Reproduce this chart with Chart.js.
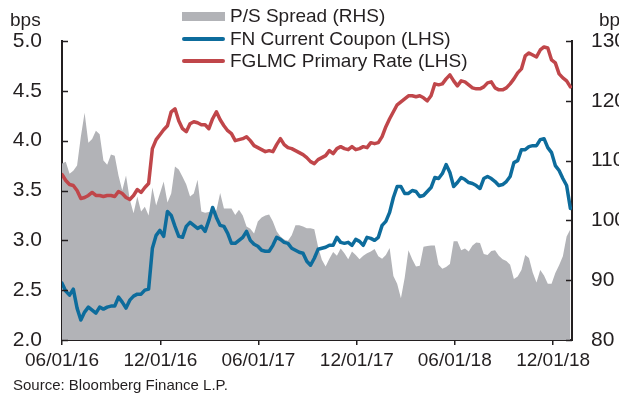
<!DOCTYPE html>
<html>
<head>
<meta charset="utf-8">
<script src="https://cdn.jsdelivr.net/npm/chart.js@4.4.0/dist/chart.umd.min.js"></script>
<style>
  html, body { margin: 0; padding: 0; background: #fff; }
  body { width: 619px; height: 400px; position: relative; overflow: hidden;
         font-family: 'Liberation Sans', Arial, sans-serif; color: #231f20; }
  canvas { position: absolute; left: 0; top: 0; }
  .lbl { position: absolute; white-space: nowrap; line-height: 1; }
  .legend { position: absolute; left: 182px; top: 5px; font-size: 19px; }
  .legend .row { height: 22.5px; display: flex; align-items: center; }
  .swatch { width: 43px; margin-right: 5px; }
</style>
</head>
<body>
<canvas id="chart" width="619" height="400"></canvas>
<div class="legend" id="legend"></div>
<div class="lbl" style="left:10px; top:10px; font-size:19px;">bps</div>
<div class="lbl" style="left:599px; top:10px; font-size:19px;">bps</div>
<div class="lbl" style="left:13px; top:377px; font-size:15px;">Source: Bloomberg Finance L.P.</div>
<script>
// weekly observations starting 06/01/16
const startDate = new Date(2016, 5, 1);
const tickLabels = ['06/01/16', '12/01/16', '06/01/17', '12/01/17', '06/01/18', '12/01/18'];

// P/S spread, bps (right axis)
const psSpread = [
  109.5, 109.8, 107.8, 108.3, 109.2, 114, 118, 113, 113.6, 115,
  114.4, 110, 109.3, 111, 110.8, 107.5, 105, 107.5, 103.5, 101.2,
  104, 101.5, 102.3, 100.8, 105.5, 102.5, 104.5, 106.5, 103, 104.5,
  109, 108.5, 107.3, 106, 104, 104.5, 106.8, 101.5, 101.3, 101.4,
  101.3, 101.7, 104.6, 102, 102, 102, 100.9, 101.8, 100.8, 99,
  98.6, 97.8, 99.8, 100.5, 100.8, 101, 99.8, 98.2, 97.3, 96.8,
  96.6, 97.5, 99.2, 99.2, 99, 98.7, 98.7, 98.5, 95.6, 93.4,
  92.3, 93.6, 94.7, 94.1, 95.3, 94.5, 93.5, 94.8, 94.2, 93.5,
  94.1, 94.5, 94.8, 95.2, 94, 93.6, 94.2, 95.4, 90.7, 89.4,
  87, 90.4, 95, 93.5, 92.3, 92.4, 95.6, 95.7, 95.8, 95.8,
  92.6, 91.9, 92.2, 92.7, 96.5, 96.5, 95, 95.3, 94.8, 95.8,
  96.3, 96.2, 94.4, 94.2, 94.9, 95, 94.1, 93.5, 93.2, 92.6,
  90.2, 90.6, 91.7, 94.2, 93.7, 91.3, 89.6, 91.7, 90.8, 89.4,
  89.4, 91.2, 92.5, 94, 97.3, 98.5
];

// FN current coupon, % (left axis)
const fnCurrentCoupon = [
  2.57, 2.49, 2.45, 2.51, 2.32, 2.20, 2.28, 2.33, 2.30, 2.27,
  2.33, 2.31, 2.33, 2.34, 2.34, 2.43, 2.38, 2.32, 2.40, 2.44,
  2.46, 2.46, 2.50, 2.51, 2.92, 3.05, 3.10, 3.04, 3.29, 3.25,
  3.14, 3.04, 3.03, 3.14, 3.18, 3.15, 3.12, 3.14, 3.09, 3.20,
  3.33, 3.23, 3.15, 3.14, 3.07, 2.97, 2.97, 3.00, 3.03, 3.09,
  3.00, 2.96, 2.94, 2.90, 2.89, 2.89, 2.95, 3.03, 3.01, 2.98,
  2.97, 2.92, 2.90, 2.88, 2.87, 2.79, 2.75, 2.82, 2.91, 2.92,
  2.93, 2.95, 2.95, 3.03, 2.98, 2.97, 2.98, 2.95, 3.01, 2.99,
  2.95, 3.03, 3.02, 3.00, 3.03, 3.15, 3.19, 3.28, 3.43, 3.54,
  3.54, 3.47, 3.47, 3.50, 3.49, 3.44, 3.45, 3.49, 3.53, 3.63,
  3.62, 3.67, 3.76, 3.68, 3.54, 3.58, 3.63, 3.61, 3.58, 3.57,
  3.55, 3.52, 3.62, 3.64, 3.62, 3.59, 3.55, 3.56, 3.59, 3.64,
  3.78, 3.80, 3.91, 3.91, 3.94, 3.95, 3.95, 4.01, 4.02, 3.93,
  3.88, 3.75, 3.70, 3.62, 3.55, 3.32
];

// FGLMC primary rate, % (left axis)
const fglmcPrimary = [
  3.66, 3.60, 3.56, 3.55, 3.50, 3.42, 3.43, 3.45, 3.48, 3.45,
  3.45, 3.44, 3.45, 3.45, 3.44, 3.49, 3.47, 3.43, 3.41, 3.45,
  3.51, 3.48, 3.53, 3.57, 3.92, 4.01, 4.06, 4.11, 4.15, 4.29,
  4.32, 4.20, 4.12, 4.09, 4.17, 4.19, 4.18, 4.16, 4.16, 4.12,
  4.22, 4.29, 4.21, 4.15, 4.10, 4.07, 4.00, 4.01, 4.02, 4.04,
  4.00, 3.95, 3.93, 3.91, 3.89, 3.90, 3.89, 3.96, 4.02, 3.96,
  3.93, 3.92, 3.90, 3.88, 3.86, 3.83, 3.79, 3.77, 3.81, 3.83,
  3.85, 3.90, 3.87, 3.92, 3.94, 3.92, 3.91, 3.94, 3.91, 3.92,
  3.94, 3.93, 3.98, 3.97, 3.98, 4.04, 4.14, 4.22, 4.29, 4.36,
  4.39, 4.42, 4.45, 4.45, 4.44, 4.45, 4.43, 4.40, 4.45, 4.57,
  4.56, 4.57, 4.62, 4.66, 4.60, 4.55, 4.60, 4.59, 4.56, 4.53,
  4.52, 4.52, 4.54, 4.58, 4.59, 4.53, 4.51, 4.51, 4.53, 4.57,
  4.62, 4.68, 4.72, 4.85, 4.88, 4.86, 4.84, 4.91, 4.94, 4.93,
  4.81, 4.78, 4.67, 4.63, 4.60, 4.54
];

const seriesNames = ['P/S Spread (RHS)', 'FN Current Coupon (LHS)', 'FGLMC Primary Rate (LHS)'];
const gray = '#b2b3b7';
const blue = '#0d6c9c';
const red = '#c0464a';
const ink = '#231f20';

const DAY = 24 * 3600 * 1000;
const dayOf = s => {
  const [m, d, y] = s.split('/').map(Number);
  return Math.round((new Date(2000 + y, m - 1, d) - startDate) / DAY);
};
const days = psSpread.map((_, i) => i * 7);
const tickDays = tickLabels.map(dayOf);

// y axes have their ticks pointing into the plot
const innerTicks = {
  id: 'innerTicks',
  afterDraw(chart) {
    const ctx = chart.ctx;
    ctx.save();
    ctx.strokeStyle = ink;
    ctx.lineWidth = 1.5;
    const yl = chart.scales.y, yr = chart.scales.y1;
    yl.ticks.forEach(t => {
      const p = Math.round(yl.getPixelForValue(t.value)) + 0.5;
      ctx.beginPath(); ctx.moveTo(yl.right, p); ctx.lineTo(yl.right + 6, p); ctx.stroke();
    });
    yr.ticks.forEach(t => {
      const p = Math.round(yr.getPixelForValue(t.value)) + 0.5;
      ctx.beginPath(); ctx.moveTo(yr.left, p); ctx.lineTo(yr.left - 6, p); ctx.stroke();
    });
    ctx.restore();
  }
};

new Chart(document.getElementById('chart'), {
  type: 'line',
  data: {
    labels: days,
    datasets: [
      {
        label: seriesNames[0], data: psSpread, yAxisID: 'y1', order: 3,
        fill: 'start', backgroundColor: gray, borderWidth: 0, pointRadius: 0
      },
      {
        label: seriesNames[1], data: fnCurrentCoupon, yAxisID: 'y', order: 1,
        borderColor: blue, borderWidth: 3.5, pointRadius: 0, fill: false
      },
      {
        label: seriesNames[2], data: fglmcPrimary, yAxisID: 'y', order: 2,
        borderColor: red, borderWidth: 3.5, pointRadius: 0, fill: false
      }
    ]
  },
  options: {
    responsive: false,
    animation: false,
    layout: { padding: { top: 41, left: 0, right: 0, bottom: 0 } },
    elements: { line: { tension: 0, borderJoinStyle: 'round', borderCapStyle: 'round' } },
    plugins: { legend: { display: false }, tooltip: { enabled: false } },
    scales: {
      x: {
        type: 'linear', min: 0, max: 948, z: 1,
        afterBuildTicks: s => { s.ticks = tickDays.map(v => ({ value: v })); },
        afterFit: s => { s.height = 60; },
        ticks: {
          autoSkip: false, maxRotation: 0, padding: 4, color: ink,
          font: { family: 'Liberation Sans', size: 19 },
          callback: (v, i) => tickLabels[i]
        },
        grid: { display: true, drawOnChartArea: false, drawTicks: true, tickLength: 5, color: ink, lineWidth: 1.5 },
        border: { display: true, color: ink, width: 2 }
      },
      y: {
        position: 'left', min: 2, max: 5, z: 1,
        afterFit: s => { s.width = 62; },
        ticks: {
          stepSize: 0.5, padding: 20, color: ink,
          font: { family: 'Liberation Sans', size: 21 },
          callback: v => v.toFixed(1)
        },
        grid: { display: false, drawTicks: false },
        border: { display: true, color: ink, width: 2 }
      },
      y1: {
        position: 'right', min: 80, max: 130, z: 1,
        afterFit: s => { s.width = 47; },
        ticks: {
          stepSize: 10, padding: 19, color: ink,
          font: { family: 'Liberation Sans', size: 21 }
        },
        grid: { display: false, drawTicks: false },
        border: { display: true, color: ink, width: 2 }
      }
    }
  },
  plugins: [innerTicks]
});

// legend: one row per series, stacked
const legend = document.getElementById('legend');
[[gray, 9, 0], [blue, 4, 2], [red, 4, 2]].forEach(([c, h, r], i) => {
  const row = document.createElement('div');
  row.className = 'row';
  const sw = document.createElement('span');
  sw.className = 'swatch';
  sw.style.height = h + 'px';
  sw.style.background = c;
  sw.style.borderRadius = r + 'px';
  const tx = document.createElement('span');
  tx.textContent = seriesNames[i];
  row.appendChild(sw);
  row.appendChild(tx);
  legend.appendChild(row);
});
</script>
</body>
</html>
